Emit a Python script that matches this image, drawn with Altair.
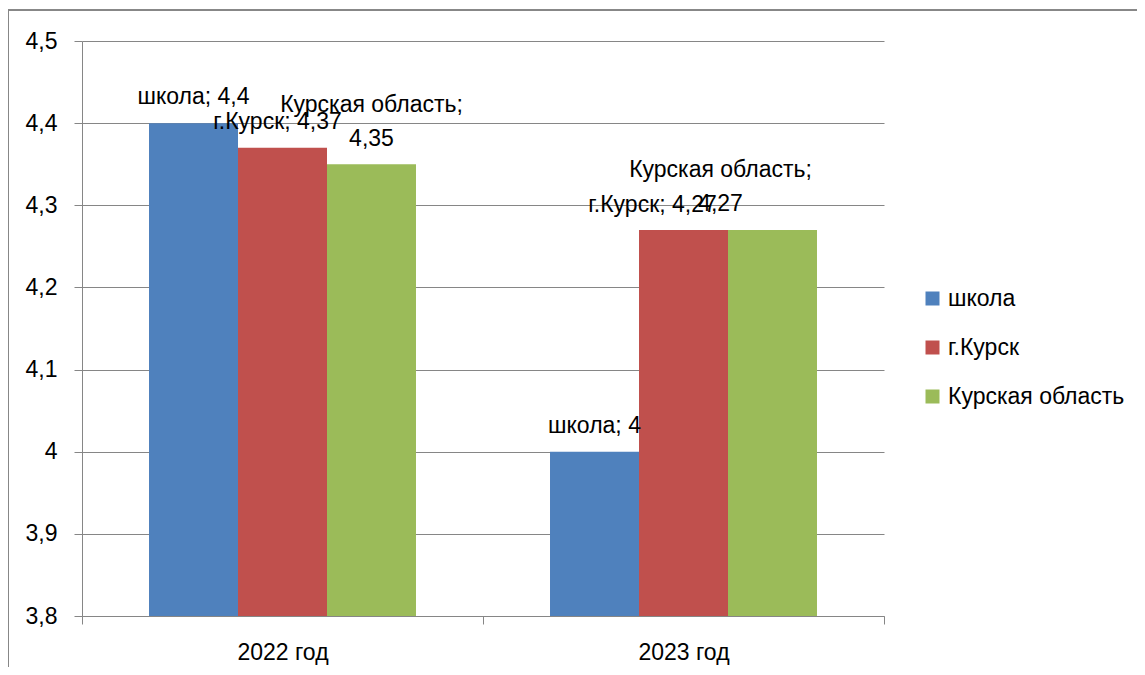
import altair as alt
import pandas as pd

years = ["2022 год", "2023 год"]
series = ["школа", "г.Курск", "Курская область"]
school = [4.4, 4.0]
city = [4.37, 4.27]
region = [4.35, 4.27]
colors = ["#4F81BD", "#C0504D", "#9BBB59"]
y_ticks = [3.8, 3.9, 4.0, 4.1, 4.2, 4.3, 4.4, 4.5]

def fmt(v):
    s = f"{v:.2f}".rstrip("0").rstrip(".")
    return s.replace(".", ",")

rows = []
for s_name, vals in zip(series, [school, city, region]):
    for yr, v in zip(years, vals):
        if s_name == "Курская область":
            lab = f"{s_name};\n{fmt(v)}"
        else:
            lab = f"{s_name}; {fmt(v)}"
        rows.append({"year": yr, "series": s_name, "value": v, "label": lab})
df = pd.DataFrame(rows)

FONT = "Liberation Sans"
FS = 23
GRID = "#868686"

x_enc = alt.X("year:N", sort=years, title=None,
              scale=alt.Scale(paddingInner=0, paddingOuter=0),
              axis=alt.Axis(labelAngle=0, tickBand="extent", tickSize=8,
                            tickColor=GRID, domainColor=GRID, labelPadding=17,
                            labelFontSize=FS, labelFont=FONT, labelColor="#000",
                            grid=False))
xo_enc = alt.XOffset("series:N", sort=series,
                     scale=alt.Scale(paddingInner=0, paddingOuter=0.753))
y_scale = alt.Scale(domain=[3.8, 4.5], zero=False, nice=False)

bars = alt.Chart(df).mark_bar(stroke=None).encode(
    x=x_enc,
    xOffset=xo_enc,
    y=alt.Y("value:Q", scale=y_scale, title=None,
            axis=alt.Axis(values=y_ticks, tickSize=8, tickColor=GRID,
                          domainColor=GRID, gridColor=GRID, grid=True,
                          labelPadding=17, labelFontSize=FS, labelFont=FONT,
                          labelColor="#000",
                          labelExpr="replace(format(datum.value, '.2~f'), '.', ',')")),
    y2=alt.datum(3.8),
    color=alt.Color("series:N", sort=series,
                    scale=alt.Scale(domain=series, range=colors),
                    legend=alt.Legend(title=None, orient="none", legendX=839,
                                      legendY=246, symbolType="square",
                                      symbolSize=196, symbolStrokeWidth=0,
                                      labelFontSize=FS, labelFont=FONT,
                                      labelColor="#000", rowPadding=25,
                                      labelOffset=4, labelLimit=400)),
)

def label_layer(s_name, yr, dx, dy):
    return alt.Chart(df).transform_filter(
        (alt.datum.series == s_name) & (alt.datum.year == yr)
    ).mark_text(dx=dx, dy=dy, baseline="middle", fontSize=FS, font=FONT,
                color="#000", lineBreak="\n", lineHeight=34).encode(
        x=alt.X("year:N", sort=years),
        xOffset=alt.XOffset("series:N", sort=series),
        y=alt.Y("value:Q"),
        text="label:N",
    )

labels = [
    label_layer("школа", "2022 год", 0, -26),
    label_layer("г.Курск", "2022 год", -5, -26),
    label_layer("Курская область", "2022 год", 0, -59),
    label_layer("школа", "2023 год", 0, -26),
    label_layer("г.Курск", "2023 год", -31, -25),
    label_layer("Курская область", "2023 год", -52, -60),
]

frame_top = alt.Chart(df).mark_rule(color=GRID, strokeWidth=1).encode(
    x=alt.value(-74), x2=alt.value(1063), y=alt.value(-31))
frame_left = alt.Chart(df).mark_rule(color=GRID, strokeWidth=1).encode(
    x=alt.value(-74), y=alt.value(-31), y2=alt.value(640))

chart = alt.layer(bars, *labels, frame_top, frame_left).properties(
    width=802, height=575,
    autosize=alt.AutoSizeParams(type="none"),
    padding={"left": 74, "top": 33, "right": 253, "bottom": 51},
).configure_view(stroke=None).configure_axis(domainWidth=1, tickWidth=1, gridWidth=1)

chart.save("out.html", embed_options={"renderer": "svg", "actions": False})
